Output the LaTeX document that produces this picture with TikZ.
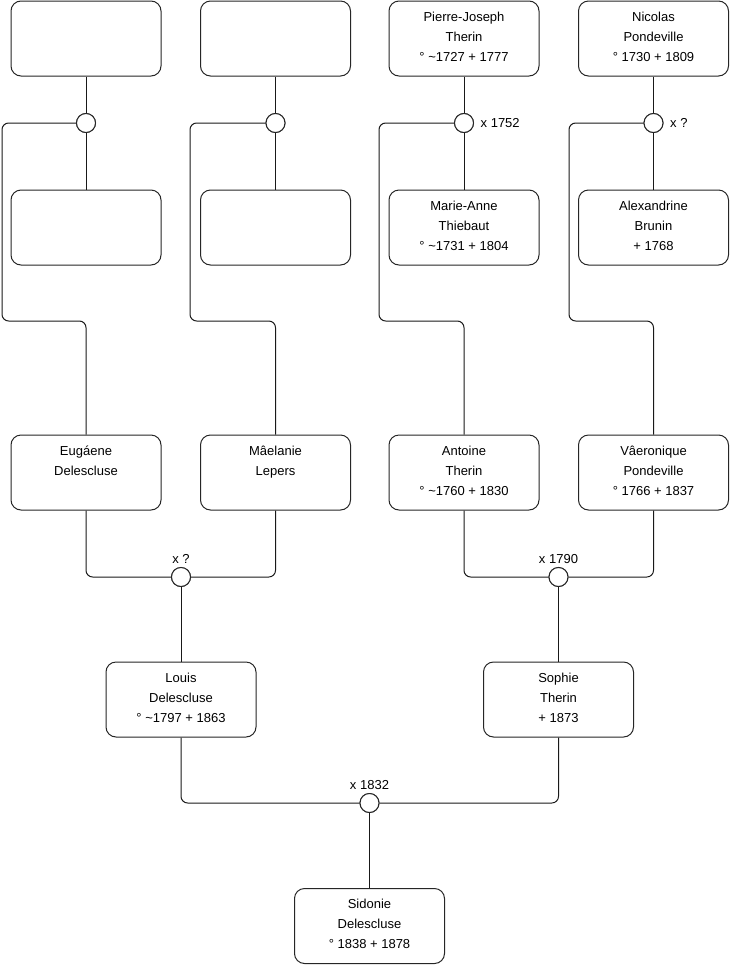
\documentclass[tikz,border=0pt]{standalone}
\usepackage{fontspec}
\setmainfont{Liberation Sans}
\begin{document}
\begin{tikzpicture}[x=0.75pt,y=-0.75pt,
  pbox/.style={draw=black!85,line width=0.75pt,rounded corners=7.5pt,minimum width=112.5pt,minimum height=56.25pt,inner sep=0pt,fill=white},
  ptext/.style={anchor=north,inner sep=0pt,align=center,font=\fontsize{9.75pt}{15pt}\selectfont},
  union/.style={circle,draw=black!85,line width=0.75pt,fill=white,minimum size=14.25pt,inner sep=0pt},
  conn/.style={draw=black!90,line width=0.75pt,rounded corners=5pt},
  ulabel/.style={inner sep=0pt,font=\fontsize{9.75pt}{15pt}\selectfont}]
\useasboundingbox (0,0) rectangle (740,975);
\newcommand\personbox[4]{\node[pbox] (#1) at (#2,#3) {};
  \node[ptext] (#1t) at ([yshift=-4.8pt]#1.north) {\strut #4};}
% row 1
\personbox{a1}{86}{38.5}{}
\personbox{a2}{275.5}{38.5}{}
\personbox{a3}{464}{38.5}{Pierre-Joseph\\Therin\\° \textasciitilde1727 + 1777}
\personbox{a4}{653.5}{38.5}{Nicolas\\Pondeville\\° 1730 + 1809}
% row 2
\personbox{b1}{86}{227.5}{}
\personbox{b2}{275.5}{227.5}{}
\personbox{b3}{464}{227.5}{Marie-Anne\\Thiebaut\\° \textasciitilde1731 + 1804}
\personbox{b4}{653.5}{227.5}{Alexandrine\\Brunin\\+ 1768}
% row 3
\personbox{e1}{86}{472.5}{Eugáene\\Delescluse}
\personbox{e2}{275.5}{472.5}{Mâelanie\\Lepers}
\personbox{e3}{464}{472.5}{Antoine\\Therin\\° \textasciitilde1760 + 1830}
\personbox{e4}{653.5}{472.5}{Vâeronique\\Pondeville\\° 1766 + 1837}
% row 4
\personbox{lo}{181}{699.5}{Louis\\Delescluse\\° \textasciitilde1797 + 1863}
\personbox{so}{558.5}{699.5}{Sophie\\Therin\\+ 1873}
% row 5
\personbox{si}{369.5}{926}{Sidonie\\Delescluse\\° 1838 + 1878}
% unions
\node[union] (u1) at (86,123) {};
\node[union] (u2) at (275.5,123) {};
\node[union] (u3) at (464,123) {};
\node[union] (u4) at (653.5,123) {};
\node[union] (ul) at (181,577) {};
\node[union] (us) at (558.5,577) {};
\node[union] (ui) at (369.5,803) {};
% bend points
\coordinate (k1) at (2,321);
\coordinate (k2) at (190,321);
\coordinate (k3) at (379,321);
\coordinate (k4) at (569,321);
% connectors
\foreach \i in {1,2,3,4}{
  \draw[conn] (a\i.south) -- (u\i.north);
  \draw[conn] (u\i.south) -- (b\i.north);
  \draw[conn] (u\i.west) -| (k\i) -| (e\i.north);
}
\draw[conn] (e1.south) |- (ul.west);
\draw[conn] (e2.south) |- (ul.east);
\draw[conn] (ul.south) -- (lo.north);
\draw[conn] (e3.south) |- (us.west);
\draw[conn] (e4.south) |- (us.east);
\draw[conn] (us.south) -- (so.north);
\draw[conn] (lo.south) |- (ui.west);
\draw[conn] (so.south) |- (ui.east);
\draw[conn] (ui.south) -- (si.north);
% redraw unions on top
\foreach \u in {u1,u2,u3,u4,ul,us,ui}{
  \draw[draw=black!85,line width=0.75pt,fill=white] (\u) circle (7.125pt);
}
% labels
\node[ulabel,anchor=west] (l3) at ([xshift=4.8pt]u3.east) {x 1752};
\node[ulabel,anchor=west] (l4) at ([xshift=4.8pt]u4.east) {x ?};
\node[ulabel,anchor=base] (ll) at ([yshift=3pt]ul.north) {x ?};
\node[ulabel,anchor=base] (ls) at ([yshift=3pt]us.north) {x 1790};
\node[ulabel,anchor=base] (li) at ([yshift=3pt]ui.north) {x 1832};
\end{tikzpicture}
\end{document}
